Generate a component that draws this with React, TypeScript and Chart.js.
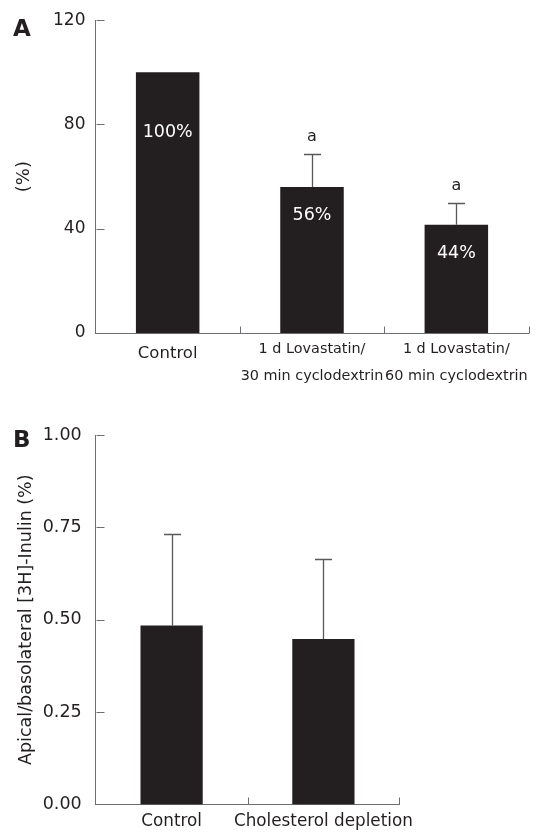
import React, { useEffect, useRef } from 'react';
import { Chart, registerables } from 'chart.js';

Chart.register(...registerables);

const FONT = '"DejaVu Sans", Verdana, sans-serif';
const INK = '#231f20';
const AXIS = '#6d6e71';
const ERR = '#58595b';

// ---------- Panel A data ----------
const categoriesA: (string | string[])[] = [
  'Control',
  ['1 d Lovastatin/', '30 min cyclodextrin'],
  ['1 d Lovastatin/', '60 min cyclodextrin'],
];
const valuesA = [100, 56, 41.5];
const errorsA = [0, 12.7, 8.3];
const valueLabelsA = ['100%', '56%', '44%'];
const markersA = ['', 'a', 'a'];
const ticksA = [0, 40, 80, 120];
const yTitleA = '(%)';

// ---------- Panel B data ----------
const categoriesB = ['Control', 'Cholesterol depletion'];
const valuesB = [0.484, 0.448];
const errorsB = [0.249, 0.217];
const ticksB = [0, 0.25, 0.5, 0.75, 1.0];
const yTitleB = 'Apical/basolateral [3H]-Inulin (%)';

type DecorCfg = {
  letter: string;
  letterX: number;
  letterY: number;
  values: number[];
  errors: number[];
  valueLabels?: string[];
  labelOffsets?: number[];
  markers?: string[];
};

function decorPlugin(cfg: DecorCfg) {
  return {
    id: 'decor',
    afterDatasetsDraw(chart: any) {
      const { ctx, chartArea } = chart;
      const x = chart.scales.x;
      const y = chart.scales.y;
      const meta = chart.getDatasetMeta(0);
      ctx.save();

      // inward tick marks on the value axis
      ctx.strokeStyle = AXIS;
      ctx.lineWidth = 1;
      const left = Math.round(chartArea.left) + 0.5;
      y.ticks.forEach((t: any) => {
        const py = Math.round(y.getPixelForValue(t.value)) + 0.5;
        ctx.beginPath();
        ctx.moveTo(left, py);
        ctx.lineTo(left + 8, py);
        ctx.stroke();
      });
      // category boundary ticks (pointing up)
      const bottom = Math.round(chartArea.bottom) + 0.5;
      for (let i = 0; i < x.ticks.length; i++) {
        const px = Math.round(x.getPixelForValue(i + 0.5)) + 0.5;
        ctx.beginPath();
        ctx.moveTo(px, bottom);
        ctx.lineTo(px, bottom - 7);
        ctx.stroke();
      }

      // error bars
      ctx.strokeStyle = ERR;
      ctx.lineWidth = 1.3;
      cfg.values.forEach((v, i) => {
        const e = cfg.errors[i];
        if (!e) return;
        const bar = meta.data[i];
        const px = Math.round(bar.x) + 0.5;
        const top = Math.round(y.getPixelForValue(v + e)) + 0.5;
        const base = y.getPixelForValue(v);
        ctx.beginPath();
        ctx.moveTo(px, base);
        ctx.lineTo(px, top);
        ctx.moveTo(px - 8.5, top);
        ctx.lineTo(px + 8.5, top);
        ctx.stroke();
      });

      // labels inside bars
      if (cfg.valueLabels) {
        ctx.fillStyle = '#ffffff';
        ctx.font = `17.5px ${FONT}`;
        ctx.textAlign = 'center';
        ctx.textBaseline = 'middle';
        cfg.valueLabels.forEach((lab, i) => {
          const bar = meta.data[i];
          const off = cfg.labelOffsets ? cfg.labelOffsets[i] : 28;
          ctx.fillText(lab, bar.x, bar.y + off);
        });
      }

      // significance markers
      if (cfg.markers) {
        ctx.fillStyle = INK;
        ctx.font = `16px ${FONT}`;
        ctx.textAlign = 'center';
        ctx.textBaseline = 'middle';
        cfg.markers.forEach((m, i) => {
          if (!m) return;
          const bar = meta.data[i];
          const top = y.getPixelForValue(cfg.values[i] + cfg.errors[i]);
          ctx.fillText(m, bar.x, top - 17);
        });
      }

      // panel letter
      ctx.fillStyle = INK;
      ctx.font = `bold 23px ${FONT}`;
      ctx.textAlign = 'left';
      ctx.textBaseline = 'alphabetic';
      ctx.fillText(cfg.letter, cfg.letterX, cfg.letterY);

      ctx.restore();
    },
  };
}

function buildA(): any {
  return {
    type: 'bar',
    data: {
      labels: categoriesA,
      datasets: [
        {
          data: valuesA,
          backgroundColor: INK,
          borderWidth: 0,
          barPercentage: 0.44,
          categoryPercentage: 1,
        },
      ],
    },
    options: {
      responsive: false,
      animation: false,
      devicePixelRatio: 1,
      layout: { padding: { left: 0, top: 19.5, right: 13.5, bottom: 0 } },
      plugins: { legend: { display: false }, tooltip: { enabled: false } },
      scales: {
        x: {
          type: 'category',
          offset: true,
          grid: { display: false, drawTicks: false, offset: true },
          border: { display: true, color: AXIS, width: 1 },
          ticks: {
            color: INK,
            padding: 2.5,
            maxRotation: 0,
            autoSkip: false,
            font: (c: any) =>
              c.index === 0
                ? { family: FONT, size: 16.5, lineHeight: 36 / 16.5 }
                : { family: FONT, size: 14.4, lineHeight: 27 / 14.4 },
          },
          afterFit: (s: any) => {
            s.height = 72;
          },
        },
        y: {
          min: 0,
          max: 120,
          grid: { display: false, drawTicks: false },
          border: { display: true, color: AXIS, width: 1 },
          ticks: { color: INK, padding: 10, font: { family: FONT, size: 17 } },
          afterBuildTicks: (s: any) => {
            s.ticks = ticksA.map((v) => ({ value: v }));
          },
          afterFit: (s: any) => {
            s.width = 95.5;
          },
          title: {
            display: true,
            text: yTitleA,
            color: INK,
            font: { family: FONT, size: 18 },
            padding: { top: 14, bottom: 0 },
          },
        },
      },
    },
    plugins: [
      decorPlugin({
        letter: 'A',
        letterX: 13,
        letterY: 35.5,
        values: valuesA,
        errors: errorsA,
        valueLabels: valueLabelsA,
        labelOffsets: [60, 28.5, 28.5],
        markers: markersA,
      }),
    ],
  };
}

function buildB(): any {
  return {
    type: 'bar',
    data: {
      labels: categoriesB,
      datasets: [
        {
          data: valuesB,
          backgroundColor: INK,
          borderWidth: 0,
          barPercentage: 0.41,
          categoryPercentage: 1,
        },
      ],
    },
    options: {
      responsive: false,
      animation: false,
      devicePixelRatio: 1,
      layout: { padding: { left: 0, top: 30, right: 142.7, bottom: 0 } },
      plugins: { legend: { display: false }, tooltip: { enabled: false } },
      scales: {
        x: {
          type: 'category',
          offset: true,
          grid: { display: false, drawTicks: false, offset: true },
          border: { display: true, color: AXIS, width: 1 },
          ticks: {
            color: INK,
            padding: 2.5,
            maxRotation: 0,
            autoSkip: false,
            font: { family: FONT, size: 16.8, lineHeight: 29.6 / 16.8 },
          },
          afterFit: (s: any) => {
            s.height = 35.6;
          },
        },
        y: {
          min: 0,
          max: 1,
          grid: { display: false, drawTicks: false },
          border: { display: true, color: AXIS, width: 1 },
          ticks: {
            color: INK,
            padding: 14,
            font: { family: FONT, size: 17.5 },
            callback: (v: any) => Number(v).toFixed(2),
          },
          afterBuildTicks: (s: any) => {
            s.ticks = ticksB.map((v) => ({ value: v }));
          },
          afterFit: (s: any) => {
            s.width = 95.7;
          },
          title: {
            display: true,
            text: yTitleB,
            color: INK,
            font: { family: FONT, size: 17.5 },
            padding: { top: 15.5, bottom: 0 },
          },
        },
      },
    },
    plugins: [
      decorPlugin({
        letter: 'B',
        letterX: 13,
        letterY: 42,
        values: valuesB,
        errors: errorsB,
      }),
    ],
  };
}

function ChartCanvas({ width, height, build }: { width: number; height: number; build: () => any }) {
  const ref = useRef<HTMLCanvasElement | null>(null);
  useEffect(() => {
    if (!ref.current) return;
    const chart = new Chart(ref.current, build());
    return () => chart.destroy();
  }, []);
  return <canvas ref={ref} width={width} height={height} style={{ display: 'block', width, height }} />;
}

export default function App() {
  return (
    <div style={{ position: 'absolute', left: 0, top: 0, width: 542, height: 840, background: '#ffffff' }}>
      <ChartCanvas width={542} height={405} build={buildA} />
      <ChartCanvas width={542} height={435} build={buildB} />
    </div>
  );
}
